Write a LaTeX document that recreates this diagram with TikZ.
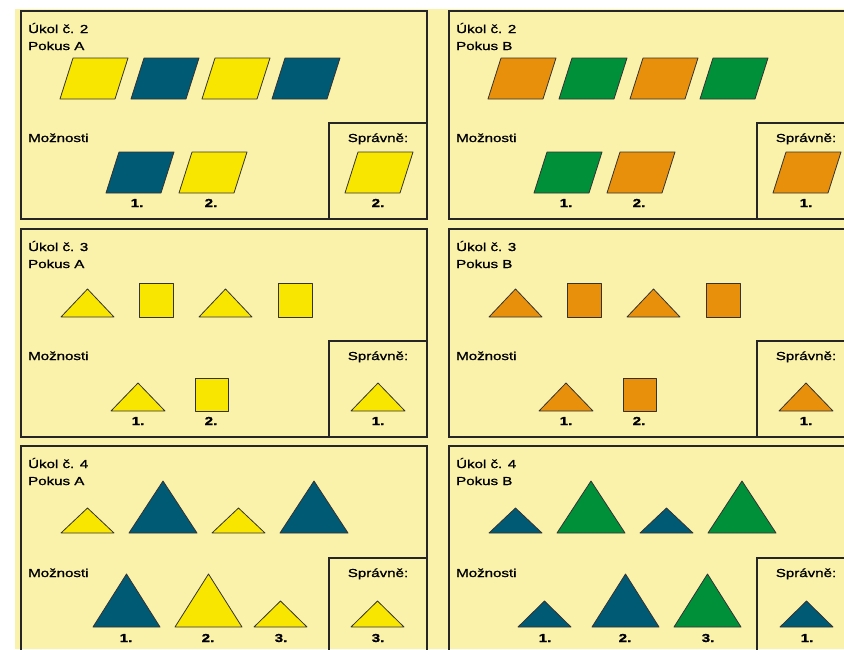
\documentclass[tikz,border=0pt]{standalone}
\usepackage{fontspec}
\setmainfont{Liberation Sans}
\newfontfamily\panelfont[FakeStretch=1.3,FakeBold=1.2]{Liberation Sans}
\usepackage{xcolor}

\definecolor{pozadi}{HTML}{FAF2AB}
\definecolor{zluta}{HTML}{F9E600}
\definecolor{modra}{HTML}{015A73}
\definecolor{oranz}{HTML}{E8900C}
\definecolor{zelena}{HTML}{00903A}

\begin{document}
\begin{tikzpicture}[
  x=1pt, y=-1pt,
  font=\panelfont\fontsize{11.6}{13}\selectfont,
  frame/.style={draw=black!85, line width=1.2pt},
  shp/.style={draw=black!80, line width=0.8pt, line join=round},
  txt/.style={anchor=base west, inner sep=0pt},
  hdr/.style={anchor=base, inner sep=0pt},
  num/.style={anchor=base, inner sep=0pt, font=\panelfont\fontsize{11.6}{13}\selectfont\bfseries}
]
\clip (0,0) rectangle (844,649);
\fill[white] (0,0) rectangle (844,649);
\fill[pozadi] (15,9) rectangle (844,649);

% ---- Ukol 2, pokus A
\begin{scope}
\draw[frame] (21,11) rectangle (427,219);
\draw[frame] (329,219) |- (427,123);
\node[txt] (ukolA2) at (28,33) {Úkol č. 2};
\node[txt] (pokusA2) at (28,50) {Pokus A};
\node[txt] (moznA2) at (28,142) {Možnosti};
\node[hdr] (spravA2) at (378,142) {Správně:};
\foreach \x/\c in {60/zluta,131/modra,202/zluta,272/modra}
  \draw[shp, fill=\c] (\x,99) -- ++(13,-41) -- ++(55,0) -- ++(-13,41) -- cycle;
\foreach \x/\c in {106/modra,179/zluta,345/zluta}
  \draw[shp, fill=\c] (\x,193) -- ++(13,-41) -- ++(55,0) -- ++(-13,41) -- cycle;
\node[num] (a2o1) at (137,207) {1.};
\node[num] (a2o2) at (211,207) {2.};
\node[num] (a2ok) at (378,207) {2.};
\end{scope}

% ---- Ukol 2, pokus B
\begin{scope}[shift={(428,0)}]
\draw[frame] (21,11) rectangle (427,219);
\draw[frame] (329,219) |- (427,123);
\node[txt] (ukolB2) at (28,33) {Úkol č. 2};
\node[txt] (pokusB2) at (28,50) {Pokus B};
\node[txt] (moznB2) at (28,142) {Možnosti};
\node[hdr] (spravB2) at (378,142) {Správně:};
\foreach \x/\c in {60/oranz,131/zelena,202/oranz,272/zelena}
  \draw[shp, fill=\c] (\x,99) -- ++(13,-41) -- ++(55,0) -- ++(-13,41) -- cycle;
\foreach \x/\c in {106/zelena,179/oranz,345/oranz}
  \draw[shp, fill=\c] (\x,193) -- ++(13,-41) -- ++(55,0) -- ++(-13,41) -- cycle;
\node[num] (b2o1) at (138,207) {1.};
\node[num] (b2o2) at (211,207) {2.};
\node[num] (b2ok) at (378,207) {1.};
\end{scope}

% ---- Ukol 3, pokus A
\begin{scope}[shift={(0,218)}]
\draw[frame] (21,11) rectangle (427,219);
\draw[frame] (329,219) |- (427,123);
\node[txt] (ukolA3) at (28,33) {Úkol č. 3};
\node[txt] (pokusA3) at (28,50) {Pokus A};
\node[txt] (moznA3) at (28,142) {Možnosti};
\node[hdr] (spravA3) at (378,142) {Správně:};
\foreach \x in {61,199}
  \draw[shp, fill=zluta] (\x,99) -- ++(53,0) -- ++(-26.5,-28) -- cycle;
\foreach \x in {139,278}
  \draw[shp, fill=zluta] (\x,65) rectangle ++(34,34);
\foreach \x in {111,351}
  \draw[shp, fill=zluta] (\x,193) -- ++(54,0) -- ++(-27,-28) -- cycle;
\draw[shp, fill=zluta] (195,160) rectangle ++(33,33);
\node[num] (a3o1) at (138,207) {1.};
\node[num] (a3o2) at (211,207) {2.};
\node[num] (a3ok) at (378,207) {1.};
\end{scope}

% ---- Ukol 3, pokus B
\begin{scope}[shift={(428,218)}]
\draw[frame] (21,11) rectangle (427,219);
\draw[frame] (329,219) |- (427,123);
\node[txt] (ukolB3) at (28,33) {Úkol č. 3};
\node[txt] (pokusB3) at (28,50) {Pokus B};
\node[txt] (moznB3) at (28,142) {Možnosti};
\node[hdr] (spravB3) at (378,142) {Správně:};
\foreach \x in {61,199}
  \draw[shp, fill=oranz] (\x,99) -- ++(53,0) -- ++(-26.5,-28) -- cycle;
\foreach \x in {139,278}
  \draw[shp, fill=oranz] (\x,65) rectangle ++(34,34);
\foreach \x in {111,351}
  \draw[shp, fill=oranz] (\x,193) -- ++(54,0) -- ++(-27,-28) -- cycle;
\draw[shp, fill=oranz] (195,160) rectangle ++(33,33);
\node[num] (b3o1) at (138,207) {1.};
\node[num] (b3o2) at (211,207) {2.};
\node[num] (b3ok) at (378,207) {1.};
\end{scope}

% ---- Ukol 4, pokus A
\begin{scope}[shift={(0,435)}]
\draw[frame] (21,11) rectangle (427,219);
\draw[frame] (329,219) |- (427,123);
\node[txt] (ukolA4) at (28,33) {Úkol č. 4};
\node[txt] (pokusA4) at (28,50) {Pokus A};
\node[txt] (moznA4) at (28,142) {Možnosti};
\node[hdr] (spravA4) at (378,142) {Správně:};
\foreach \x/\w/\h/\c in {61/53/25/zluta,129/68/52/modra,212/53/25/zluta,280/68/52/modra}
  \draw[shp, fill=\c] (\x,98) -- ++(\w,0) -- ++({-\w/2},-\h) -- cycle;
\foreach \x/\w/\h/\c in {93/67/53/modra,175/67/53/zluta,254/53/26/zluta,351/53/26/zluta}
  \draw[shp, fill=\c] (\x,192) -- ++(\w,0) -- ++({-\w/2},-\h) -- cycle;
\node[num] (a4o1) at (126,207) {1.};
\node[num] (a4o2) at (208,207) {2.};
\node[num] (a4o3) at (281,207) {3.};
\node[num] (a4ok) at (378,207) {3.};
\end{scope}

% ---- Ukol 4, pokus B
\begin{scope}[shift={(428,435)}]
\draw[frame] (21,11) rectangle (427,219);
\draw[frame] (329,219) |- (427,123);
\node[txt] (ukolB4) at (28,33) {Úkol č. 4};
\node[txt] (pokusB4) at (28,50) {Pokus B};
\node[txt] (moznB4) at (28,142) {Možnosti};
\node[hdr] (spravB4) at (378,142) {Správně:};
\foreach \x/\w/\h/\c in {61/53/25/modra,129/68/52/zelena,212/53/25/modra,280/68/52/zelena}
  \draw[shp, fill=\c] (\x,98) -- ++(\w,0) -- ++({-\w/2},-\h) -- cycle;
\foreach \x/\w/\h/\c in {90/53/26/modra,164/67/53/modra,246/67/53/zelena,352/53/26/modra}
  \draw[shp, fill=\c] (\x,192) -- ++(\w,0) -- ++({-\w/2},-\h) -- cycle;
\node[num] (b4o1) at (117,207) {1.};
\node[num] (b4o2) at (197,207) {2.};
\node[num] (b4o3) at (280,207) {3.};
\node[num] (b4ok) at (379,207) {1.};
\end{scope}
\end{tikzpicture}
\end{document}
